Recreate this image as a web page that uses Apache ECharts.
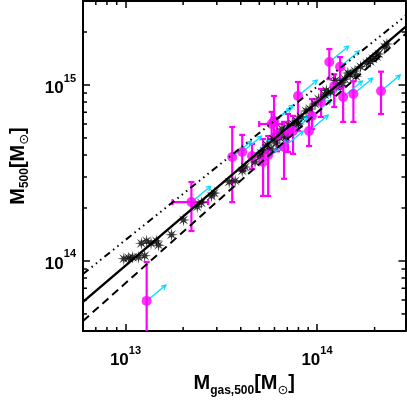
<!DOCTYPE html>
<html>
<head>
<meta charset="utf-8">
<script src="https://cdn.jsdelivr.net/npm/echarts@6/dist/echarts.min.js"></script>
<style>
html,body{margin:0;padding:0;background:#fff}
#chart{width:407px;height:407px}
</style>
</head>
<body>
<div id="chart"></div>
<script>
// simulated clusters (stars)
var starX = [9.8e12, 1.04e13, 1.09e13, 1.17e13, 1.26e13, 1.21e13, 1.29e13, 1.36e13, 1.45e13, 1.49e13,
  1.74e13, 2.01e13, 2.37e13, 2.49e13, 2.81e13, 2.91e13, 3.48e13, 3.74e13, 4.07e13, 4.22e13,
  4.75e13, 4.99e13, 5.30e13, 5.49e13, 5.76e13, 5.90e13, 6.11e13, 6.34e13, 6.57e13, 6.90e13,
  7.15e13, 7.50e13, 7.87e13, 8.26e13, 8.77e13, 9.20e13, 9.77e13, 1.02e14, 1.10e14, 1.18e14,
  1.27e14, 1.35e14, 1.40e14, 1.49e14, 1.58e14, 1.69e14, 1.82e14, 1.96e14, 2.10e14, 2.26e14,
  2.32e14, 1.25e14, 1.45e14, 1.90e14, 2.05e14, 1.12e14, 6.4e13, 5.1e13, 8.0e13, 1.60e14];
var starY = [1.03e14, 1.04e14, 1.05e14, 1.05e14, 1.07e14, 1.26e14, 1.30e14, 1.26e14, 1.30e14, 1.23e14,
  1.41e14, 1.71e14, 2.03e14, 2.14e14, 2.34e14, 2.43e14, 2.81e14, 2.85e14, 3.25e14, 3.42e14,
  3.65e14, 3.90e14, 4.22e14, 4.56e14, 4.33e14, 4.93e14, 4.68e14, 5.27e14, 5.62e14, 5.07e14,
  5.85e14, 6.00e14, 6.24e14, 6.58e14, 7.11e14, 7.31e14, 7.80e14, 8.32e14, 8.77e14, 9.12e14,
  9.75e14, 1.03e15, 1.08e15, 1.14e15, 1.20e15, 1.27e15, 1.33e15, 1.41e15, 1.50e15, 1.64e15,
  1.71e15, 1.06e15, 1.17e15, 1.36e15, 1.45e15, 9.3e14, 5.0e14, 4.1e14, 6.0e14, 1.12e15];

// observed clusters (magenta) with errors
var obsX = [1.29e13, 2.21e13, 3.61e13, 4.07e13, 4.58e13, 5.23e13, 5.56e13, 5.80e13, 5.97e13, 6.19e13,
  6.73e13, 7.06e13, 7.50e13, 7.96e13, 9.09e13, 9.42e13, 1.05e14, 1.16e14, 1.23e14, 1.32e14,
  1.37e14, 1.55e14, 2.16e14];
var obsY = [5.93e13, 2.16e14, 3.90e14, 4.16e14, 3.95e14, 3.65e14, 4.00e14, 6.00e14, 6.24e14, 5.20e14,
  4.44e14, 5.41e14, 5.48e14, 8.66e14, 5.48e14, 6.67e14, 8.00e14, 1.35e15, 9.87e14, 1.27e15,
  8.55e14, 8.89e14, 9.25e14];
var obsYlo = [3.0e13, 1.48e14, 2.16e14, 3.25e14, 3.33e14, 2.34e14, 2.34e14, 4.90e14, 4.93e14, 4.20e14,
  2.93e14, 4.16e14, 4.06e14, 5.48e14, 4.50e14, 5.62e14, 6.58e14, 1.08e15, 7.50e14, 9.49e14,
  6.17e14, 6.17e14, 6.84e14];
var obsYhi = [9.87e13, 2.81e14, 5.77e14, 5.20e14, 4.62e14, 4.93e14, 5.13e14, 7.03e14, 8.66e14, 6.50e14,
  6.17e14, 6.84e14, 6.67e14, 1.04e15, 6.58e14, 8.32e14, 9.49e14, 1.60e15, 1.15e15, 1.44e15,
  9.87e14, 1.05e15, 1.19e15];
var obsXlo = [null, 1.76e13, null, null, null, null, null, 4.99e13, null, null,
  null, null, null, null, null, null, null, null, null, null, null, null, null];
var obsXhi = [null, 2.70e13, null, null, null, null, null, 6.73e13, null, null,
  null, null, null, null, null, null, null, null, null, null, null, null, null];
// correction vector shown by the cyan arrows
var arrowFx = 1.26, arrowFy = 1.23;

// fitted relations
var lineX = [6e12, 2.9e14];
var solidY = [5.85e13, 2.14e15];
var dashY = [4.56e13, 1.95e15];
var dotY = [8.43e13, 2.47e15];

var xMin = 6e12, xMax = 2.9e14, yMin = 4e13, yMax = 3e15;
var xMinor = [7e12, 8e12, 9e12, 2e13, 3e13, 4e13, 5e13, 6e13, 7e13, 8e13, 9e13, 2e14];
var yMinor = [5e13, 6e13, 7e13, 8e13, 9e13, 2e14, 3e14, 4e14, 5e14, 6e14, 7e14, 8e14, 9e14, 2e15, 3e15];

var MAG = '#ff00ff', CYAN = '#00dcff';
var FONT = 'Liberation Sans, Arial, sans-serif';

function starPath () {
  var s = 'path://';
  for (var i = 0; i < 16; i++) {
    var a = i * Math.PI / 8;
    var r = i % 2 ? 3.2 : 10;
    s += (i ? 'L' : 'M') + (10 + r * Math.sin(a)).toFixed(2) + ' ' + (10 - r * Math.cos(a)).toFixed(2);
  }
  return s + 'Z';
}

function toPairs (xs, ys) {
  return xs.map(function (x, i) { return [x, ys[i]] })
}

function tickLabel (v) {
  var e = Math.round(Math.log10(v));
  if (Math.abs(Math.log10(v) - e) > 1e-6) return '';
  return '{b|10}{s|' + e + '}';
}

var labelRich = {
  b: {fontSize: 17, fontWeight: 'bold', fontFamily: FONT, color: '#000', lineHeight: 24, verticalAlign: 'bottom'},
  s: {fontSize: 11, fontWeight: 'bold', fontFamily: FONT, color: '#000', lineHeight: 12, verticalAlign: 'top'}
};
var nameRich = {
  m: {fontSize: 20, fontWeight: 'bold', fontFamily: FONT, color: '#000', lineHeight: 26},
  sub: {fontSize: 12, fontWeight: 'bold', fontFamily: FONT, color: '#000', lineHeight: 10, verticalAlign: 'bottom'},
  sun: {fontSize: 13, fontFamily: 'DejaVu Sans', color: '#000', lineHeight: 10, verticalAlign: 'bottom'}
};

function renderTicks (params, api) {
  var kids = [];
  var st = {stroke: '#000', lineWidth: 1.5};
  xMinor.forEach(function (v) {
    var b = api.coord([v, yMin]), t = api.coord([v, yMax]);
    kids.push({type: 'line', shape: {x1: b[0], y1: b[1], x2: b[0], y2: b[1] - 4}, style: st});
    kids.push({type: 'line', shape: {x1: t[0], y1: t[1], x2: t[0], y2: t[1] + 4}, style: st});
  });
  yMinor.forEach(function (v) {
    var l = api.coord([xMin, v]), r = api.coord([xMax, v]);
    kids.push({type: 'line', shape: {x1: l[0], y1: l[1], x2: l[0] + 4, y2: l[1]}, style: st});
    kids.push({type: 'line', shape: {x1: r[0], y1: r[1], x2: r[0] - 4, y2: r[1]}, style: st});
  });
  return {type: 'group', children: kids};
}

function renderErrors (params, api) {
  var i = api.value(2);
  var kids = [];
  var st = {stroke: MAG, lineWidth: 2.2};
  var lo = api.coord([obsX[i], obsYlo[i]]), hi = api.coord([obsX[i], obsYhi[i]]);
  kids.push({type: 'line', shape: {x1: lo[0], y1: lo[1], x2: hi[0], y2: hi[1]}, style: st});
  kids.push({type: 'line', shape: {x1: hi[0] - 3, y1: hi[1], x2: hi[0] + 3, y2: hi[1]}, style: st});
  kids.push({type: 'line', shape: {x1: lo[0] - 3, y1: lo[1], x2: lo[0] + 3, y2: lo[1]}, style: st});
  if (obsXlo[i] != null) {
    var l = api.coord([obsXlo[i], obsY[i]]), r = api.coord([obsXhi[i], obsY[i]]);
    kids.push({type: 'line', shape: {x1: l[0], y1: l[1], x2: r[0], y2: r[1]}, style: st});
    kids.push({type: 'line', shape: {x1: l[0], y1: l[1] - 3, x2: l[0], y2: l[1] + 3}, style: st});
    kids.push({type: 'line', shape: {x1: r[0], y1: r[1] - 3, x2: r[0], y2: r[1] + 3}, style: st});
  }
  return {type: 'group', children: kids};
}

function renderArrows (params, api) {
  var i = api.value(2);
  var a = api.coord([obsX[i], obsY[i]]);
  var b = api.coord([obsX[i] * arrowFx, obsY[i] * arrowFy]);
  var ang = Math.atan2(b[1] - a[1], b[0] - a[0]);
  var h = 5, w = 0.5;
  var st = {stroke: CYAN, lineWidth: 1.3, fill: null};
  return {type: 'group', children: [
    {type: 'line', shape: {x1: a[0], y1: a[1], x2: b[0], y2: b[1]}, style: st},
    {type: 'polyline', shape: {points: [
      [b[0] - h * Math.cos(ang - w), b[1] - h * Math.sin(ang - w)],
      [b[0], b[1]],
      [b[0] - h * Math.cos(ang + w), b[1] - h * Math.sin(ang + w)]
    ]}, style: st}
  ]};
}

var idx = obsX.map(function (x, i) { return [x, obsY[i], i] });

var axisCommon = {
  type: 'log',
  logBase: 10,
  axisLine: {show: true, onZero: false, lineStyle: {color: '#000', width: 2}},
  axisTick: {show: true, inside: true, length: 7, lineStyle: {color: '#000', width: 1.5}},
  splitLine: {show: false},
  minorTick: {show: false}
};

var chart = echarts.init(document.getElementById('chart'));
chart.setOption({
  animation: false,
  backgroundColor: '#fff',
  grid: {left: 82, right: 1.5, top: 1, bottom: 76, containLabel: false},
  xAxis: [
    Object.assign({}, axisCommon, {
      position: 'bottom', min: xMin, max: xMax,
      name: '{m|M}{sub|gas,500}{m|[M}{sun|⊙}{m|]}', nameLocation: 'middle', nameGap: 38,
      nameTextStyle: {rich: nameRich},
      axisLabel: {formatter: tickLabel, rich: labelRich, margin: 14, showMinLabel: false, showMaxLabel: false}
    }),
    Object.assign({}, axisCommon, {
      position: 'top', min: xMin, max: xMax, axisLabel: {show: false}
    })
  ],
  yAxis: [
    Object.assign({}, axisCommon, {
      position: 'left', min: yMin, max: yMax,
      name: '{m|M}{sub|500}{m|[M}{sun|⊙}{m|]}', nameLocation: 'middle', nameGap: 52,
      nameTextStyle: {rich: nameRich},
      axisLabel: {formatter: tickLabel, rich: labelRich, margin: 7, showMinLabel: false, showMaxLabel: false}
    }),
    Object.assign({}, axisCommon, {
      position: 'right', min: yMin, max: yMax, axisLabel: {show: false}
    })
  ],
  series: [
    {type: 'line', data: toPairs(lineX, dotY), symbol: 'none', silent: true,
      lineStyle: {color: '#000', width: 2, type: [7, 4, 1.5, 4, 1.5, 4, 1.5, 4]}},
    {type: 'line', data: toPairs(lineX, solidY), symbol: 'none', silent: true,
      lineStyle: {color: '#000', width: 2.4}},
    {type: 'line', data: toPairs(lineX, dashY), symbol: 'none', silent: true,
      lineStyle: {color: '#000', width: 2, type: [8, 5]}},
    {type: 'scatter', data: toPairs(starX, starY), symbol: starPath(), symbolSize: 13,
      itemStyle: {color: '#000'}},
    {type: 'custom', data: idx, renderItem: renderErrors, clip: true, encode: {x: 0, y: 1}},
    {type: 'scatter', data: toPairs(obsX, obsY), symbol: 'circle', symbolSize: 10,
      itemStyle: {color: MAG}},
    {type: 'custom', data: idx, renderItem: renderArrows, clip: true, encode: {x: 0, y: 1}},
    {type: 'custom', data: [[1e13, 1e14]], renderItem: renderTicks, encode: {x: 0, y: 1}}
  ]
});
</script>
</body>
</html>
